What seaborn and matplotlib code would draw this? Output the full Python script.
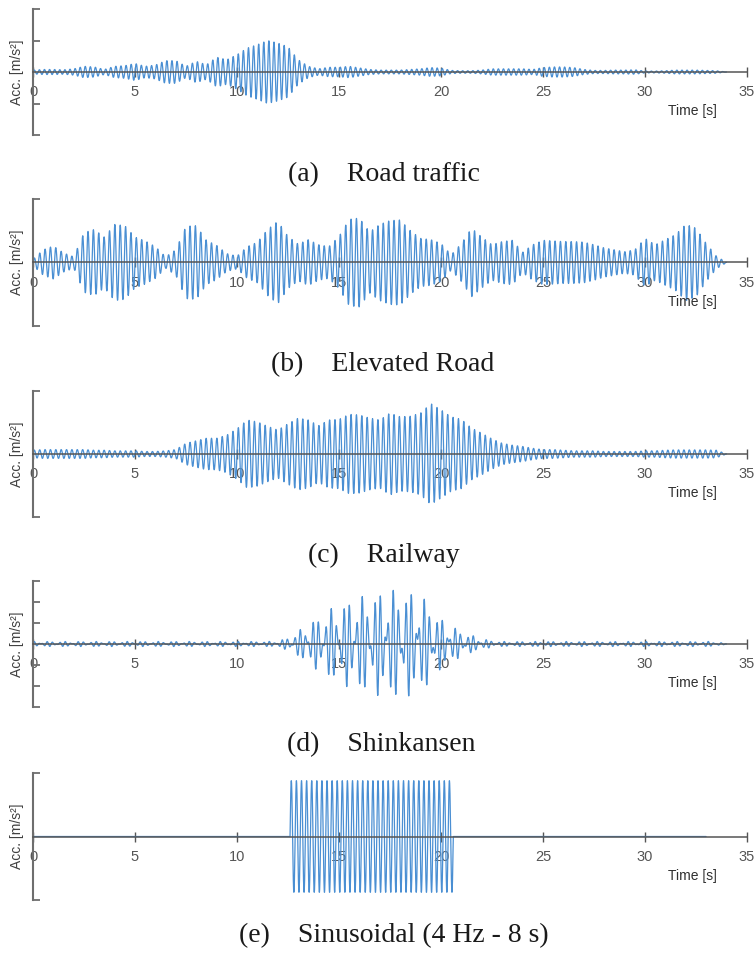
import numpy as np
import matplotlib
matplotlib.use("Agg")
import matplotlib.pyplot as plt
import seaborn as sns

# Envelope knots every 0.5 s from 0 to 34 s, in each panel's own y units
KNOT_STEP = 0.5
FS = 200  # samples per second

ROAD_ENV = [
    0.06, 0.08, 0.08, 0.07, 0.10, 0.18, 0.16, 0.08, 0.18, 0.20,
    0.27, 0.18, 0.22, 0.36, 0.36, 0.18, 0.34, 0.23, 0.47, 0.39,
    0.55, 0.76, 0.87, 1.00, 0.92, 0.80, 0.39, 0.18, 0.10, 0.15,
    0.15, 0.18, 0.13, 0.08, 0.06, 0.06, 0.06, 0.08, 0.10, 0.14,
    0.12, 0.05, 0.04, 0.04, 0.06, 0.10, 0.10, 0.10, 0.10, 0.08,
    0.14, 0.16, 0.16, 0.14, 0.08, 0.05, 0.05, 0.06, 0.06, 0.07,
    0.03, 0.03, 0.04, 0.06, 0.06, 0.06, 0.05, 0.04, 0.00,
]
ELEVATED_ENV = [
    0.05, 0.20, 0.26, 0.15, 0.09, 0.47, 0.52, 0.40, 0.60, 0.58,
    0.40, 0.34, 0.25, 0.09, 0.20, 0.57, 0.58, 0.35, 0.27, 0.14,
    0.10, 0.25, 0.32, 0.52, 0.65, 0.41, 0.29, 0.36, 0.28, 0.25,
    0.41, 0.68, 0.70, 0.48, 0.60, 0.66, 0.67, 0.50, 0.38, 0.36,
    0.30, 0.12, 0.30, 0.54, 0.40, 0.28, 0.33, 0.35, 0.16, 0.28,
    0.35, 0.34, 0.33, 0.33, 0.32, 0.28, 0.23, 0.20, 0.17, 0.20,
    0.38, 0.28, 0.36, 0.44, 0.60, 0.54, 0.30, 0.10, 0.00,
]
RAILWAY_ENV = [
    0.06, 0.07, 0.07, 0.07, 0.07, 0.07, 0.06, 0.06, 0.05, 0.05,
    0.05, 0.04, 0.04, 0.05, 0.07, 0.17, 0.21, 0.25, 0.25, 0.30,
    0.40, 0.54, 0.51, 0.44, 0.38, 0.48, 0.57, 0.54, 0.45, 0.54,
    0.55, 0.63, 0.62, 0.57, 0.54, 0.65, 0.59, 0.60, 0.65, 0.80,
    0.70, 0.59, 0.55, 0.41, 0.33, 0.24, 0.17, 0.14, 0.12, 0.09,
    0.07, 0.07, 0.06, 0.05, 0.05, 0.05, 0.04, 0.04, 0.04, 0.04,
    0.05, 0.05, 0.06, 0.065, 0.065, 0.065, 0.065, 0.06, 0.00,
]
SHINKANSEN_ENV = [
    0.12, 0.12, 0.12, 0.12, 0.12, 0.12, 0.12, 0.12, 0.12, 0.12,
    0.12, 0.12, 0.12, 0.12, 0.12, 0.12, 0.12, 0.12, 0.12, 0.12,
    0.12, 0.12, 0.12, 0.12, 0.15, 0.30, 0.60, 1.05, 1.26, 1.65,
    1.80, 2.10, 2.25, 2.30, 2.50, 2.58, 2.58, 2.50, 2.40, 1.80,
    1.20, 0.90, 0.60, 0.42, 0.27, 0.15, 0.12, 0.12, 0.12, 0.12,
    0.12, 0.12, 0.12, 0.12, 0.12, 0.12, 0.12, 0.12, 0.12, 0.12,
    0.12, 0.12, 0.12, 0.12, 0.12, 0.12, 0.12, 0.12, 0.00,
]
# dominant frequencies (Hz) and their weights for each measured record
ROAD_HZ, ROAD_W = [4.0], [1.0]
ELEVATED_HZ, ELEVATED_W = [3.8], [1.0]
RAILWAY_HZ, RAILWAY_W = [3.8], [1.0]
SHINKANSEN_HZ, SHINKANSEN_W = [3.3, 4.6], [0.55, 0.45]

# sinusoidal input (e)
SINE_HZ = 4.0
SINE_ONSET = 12.6
SINE_DURATION = 8.0
SINE_AMPLITUDE = 0.88
SINE_RECORD_END = 33.0

CAPTIONS = [
    "(a)    Road traffic",
    "(b)    Elevated Road",
    "(c)    Railway",
    "(d)    Shinkansen",
    "(e)    Sinusoidal (4 Hz - 8 s)",
]
Y_LIMITS = [2, 1, 1, 3, 1]
Y_TICKS = [[-2, -1, 1, 2], [-1, 1], [-1, 1], [-3, -2, -1, 1, 2, 3], [-1, 1]]
X_TICKS = [0, 5, 10, 15, 20, 25, 30, 35]

LINE_COLOR = "#4a8fd3"


def measured_signal(env, freqs, weights):
    knots = np.arange(len(env)) * KNOT_STEP
    t = np.arange(0, knots[-1], 1 / FS)
    amp = np.interp(t, knots, env)
    carrier = sum(w * np.sin(2 * np.pi * f * t) for f, w in zip(freqs, weights))
    return t, amp * carrier


def sine_signal():
    t = np.arange(0, SINE_RECORD_END, 1 / FS)
    on = (t >= SINE_ONSET) & (t < SINE_ONSET + SINE_DURATION)
    y = np.where(on, SINE_AMPLITUDE * np.sin(2 * np.pi * SINE_HZ * (t - SINE_ONSET)), 0.0)
    return t, y


sns.set_theme(style="white")
plt.rcParams["font.family"] = ["Liberation Sans", "DejaVu Sans"]

fig = plt.figure(figsize=(7.56, 9.56), dpi=100)

# axes boxes in pixels (top, bottom) of the 956 px tall figure
panel_px = [(9, 135), (199, 326), (391, 517), (581, 707), (773, 900)]
caption_px = [(384, 175), (383, 365), (384, 555), (381, 745), (394, 936)]

signals = [
    measured_signal(ROAD_ENV, ROAD_HZ, ROAD_W),
    measured_signal(ELEVATED_ENV, ELEVATED_HZ, ELEVATED_W),
    measured_signal(RAILWAY_ENV, RAILWAY_HZ, RAILWAY_W),
    measured_signal(SHINKANSEN_ENV, SHINKANSEN_HZ, SHINKANSEN_W),
    sine_signal(),
]

W, H = 756, 956
for i, (t, y) in enumerate(signals):
    top, bot = panel_px[i]
    ax = fig.add_axes([33 / W, 1 - bot / H, 714 / W, (bot - top) / H])
    sns.lineplot(x=t, y=y, ax=ax, color=LINE_COLOR, linewidth=0.9,
                 estimator=None, sort=False)

    lim = Y_LIMITS[i]
    ax.set_xlim(0, 35)
    ax.set_ylim(-lim, lim)
    ax.set_facecolor("none")
    ax.spines["top"].set_visible(False)
    ax.spines["right"].set_visible(False)
    ax.spines["bottom"].set_position(("data", 0))
    ax.spines["bottom"].set_color("#555555")
    ax.spines["bottom"].set_linewidth(1.1)
    ax.spines["left"].set_color("#6e6e6e")
    ax.spines["left"].set_linewidth(1.5)

    ax.set_xticks(X_TICKS)
    ax.set_yticks(Y_TICKS[i])
    ax.tick_params(axis="x", bottom=True, direction="inout", length=7, width=1.0,
                   color="#555555", labelcolor="#555555", labelsize=10.5, pad=6)
    ax.tick_params(axis="y", left=True, direction="in", length=5, width=1.3,
                   color="#6e6e6e", labelleft=False)
    ax.set_xlabel("")
    ax.set_ylabel("")

    ax.text(-0.022, 0.5, "Acc. [m/s²]", transform=ax.transAxes, rotation=90,
            ha="center", va="center", fontsize=10, color="#404040")
    ax.text(0.923, 0.19, "Time [s]", transform=ax.transAxes, ha="center",
            va="center", fontsize=10, color="#303030")

    cx, cy = caption_px[i]
    fig.text(cx / W, 1 - cy / H, CAPTIONS[i], ha="center", va="center",
             family="Liberation Serif", fontsize=20, color="#1a1a1a")

fig.savefig("out.png", dpi=100)
plt.close(fig)
